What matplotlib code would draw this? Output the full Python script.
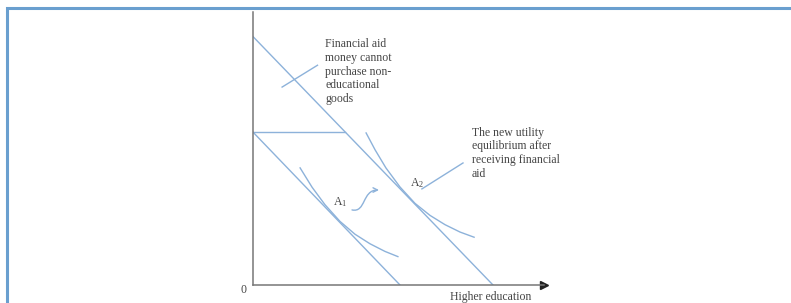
#!/usr/bin/env python3

import matplotlib
matplotlib.use("Agg")
import matplotlib.pyplot as plt
from matplotlib.patches import Rectangle, FancyArrowPatch
from matplotlib.path import Path

# budget lines (x = higher education, y = other goods)
outer_x = [0.0, 8.0]
outer_y = [9.1, 0.0]
kink_x = [0.0, 3.07]
kink_y = [5.6, 5.6]
inner_x = [0.0, 4.9]
inner_y = [5.6, 0.0]

# indifference curves
ic1_x = [1.57, 1.97, 2.40, 2.90, 3.40, 3.90, 4.40, 4.83]
ic1_y = [4.29, 3.58, 2.94, 2.33, 1.86, 1.51, 1.23, 1.04]
ic2_x = [3.77, 4.07, 4.43, 4.90, 5.40, 5.90, 6.40, 6.90, 7.37]
ic2_y = [5.57, 4.95, 4.29, 3.59, 2.99, 2.55, 2.21, 1.94, 1.75]

# annotation pointers
aid_ptr_x = [0.97, 2.15]
aid_ptr_y = [7.25, 8.05]
a2_ptr_x = [5.63, 7.0]
a2_ptr_y = [3.52, 4.47]
move_path = [(3.3, 2.75), (3.77, 2.64), (3.63, 3.48), (4.2, 3.48)]

aid_text = "Financial aid\nmoney cannot\npurchase non-\neducational\ngoods"
eq_text = "The new utility\nequilibrium after\nreceiving financial\naid"
xlabel = "Higher education"

line_col = "#8db2da"
text_col = "#454545"
font = "Liberation Serif"

plt.rcParams["mathtext.default"] = "regular"

fig = plt.figure(figsize=(7.91, 3.03), dpi=100)
W, H = 791.0, 303.0
ax = fig.add_axes([253 / W, (H - 285) / H, 291 / W, 273 / H])
ax.set_xlim(0, 9.7)
ax.set_ylim(0, 10)
for s in ["top", "right"]:
  ax.spines[s].set_visible(False)
for s in ["left", "bottom"]:
  ax.spines[s].set_color("#777777")
  ax.spines[s].set_linewidth(1.1)
ax.set_xticks([])
ax.set_yticks([])
ax.patch.set_alpha(0)
ax.plot([9.7], [0], marker=">", color="#222222", markersize=6, clip_on=False)

ax.plot(outer_x, outer_y, color=line_col, lw=1)
ax.plot(kink_x, kink_y, color=line_col, lw=1)
ax.plot(inner_x, inner_y, color=line_col, lw=1)
ax.plot(ic1_x, ic1_y, color=line_col, lw=1)
ax.plot(ic2_x, ic2_y, color=line_col, lw=1)
ax.plot(aid_ptr_x, aid_ptr_y, color=line_col, lw=1)
ax.plot(a2_ptr_x, a2_ptr_y, color=line_col, lw=1)

p = Path(move_path, [Path.MOVETO, Path.CURVE4, Path.CURVE4, Path.CURVE4])
arr = FancyArrowPatch(path=p, arrowstyle="->", mutation_scale=8, color=line_col, lw=1)
ax.add_patch(arr)

ax.text(2.4, 9.05, aid_text, family=font, fontsize=8.5, color=text_col,
        va="top", ha="left", linespacing=1.2)
ax.text(7.3, 5.8, eq_text, family=font, fontsize=8.5, color=text_col,
        va="top", ha="left", linespacing=1.2, clip_on=False)
ax.text(2.67, 3.04, "A$_1$", family=font, fontsize=8.5, color=text_col, va="center")
ax.text(5.23, 3.74, "A$_2$", family=font, fontsize=8.5, color=text_col, va="center")
ax.text(-0.33, -0.18, "0", family=font, fontsize=8.5, color=text_col,
        ha="center", va="center")
ax.text(6.57, -0.44, xlabel, family=font, fontsize=8.5, color=text_col,
        ha="left", va="center")

fig.add_artist(Rectangle((7 / W, -0.1), 1.2, (H - 8) / H + 0.1, transform=fig.transFigure,
                         fill=False, edgecolor="#6a9fcf", lw=2.2))

fig.savefig("out.png", dpi=100)
